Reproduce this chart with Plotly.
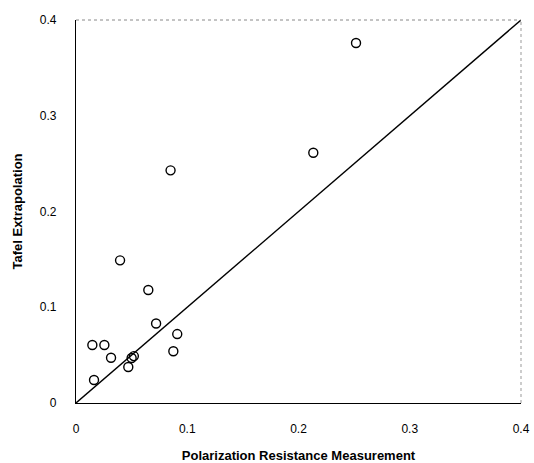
import plotly.graph_objects as go

# Data
polarization = [0.0396, 0.065, 0.072, 0.091, 0.0875, 0.0147, 0.0255, 0.0315,
                0.050, 0.052, 0.047, 0.0162, 0.2517, 0.2133, 0.085]
tafel = [0.149, 0.118, 0.083, 0.072, 0.054, 0.0606, 0.0606, 0.0473,
         0.047, 0.049, 0.0376, 0.024, 0.376, 0.2614, 0.243]
line_x = [0, 0.4]
line_y = [0, 0.4]
tick_vals = [0, 0.1, 0.2, 0.3, 0.4]
tick_text = ["0", "0.1", "0.2", "0.3", "0.4"]

font = "Liberation Sans, Arial, sans-serif"

fig = go.Figure()
fig.add_trace(go.Scatter(x=line_x, y=line_y, mode="lines",
                         line=dict(color="black", width=1.4), showlegend=False))
fig.add_trace(go.Scatter(x=polarization, y=tafel, mode="markers",
                         marker=dict(symbol="circle-open", size=9,
                                     line=dict(color="black", width=1.4), color="black"),
                         showlegend=False))

# top and right frame (lighter, dotted)
fig.add_shape(type="line", xref="paper", yref="paper", x0=0, x1=1, y0=1, y1=1,
              line=dict(color="#888888", width=1, dash="dot"))
fig.add_shape(type="line", xref="paper", yref="paper", x0=1, x1=1, y0=0, y1=1,
              line=dict(color="#999999", width=1, dash="dot"))

fig.update_layout(
    width=534, height=463,
    margin=dict(l=76, r=13, t=20, b=60),
    paper_bgcolor="white", plot_bgcolor="white",
    font=dict(family=font, color="black", size=12),
    xaxis=dict(range=[0, 0.4], tickvals=tick_vals, ticktext=tick_text,
               showgrid=False, zeroline=False, showline=True, linecolor="black",
               linewidth=1.2, ticks="", ticklabelstandoff=14, automargin=False,
               tickfont=dict(size=12, family=font),
               title=dict(text="<b>Polarization Resistance Measurement</b>",
                          font=dict(size=13, family=font), standoff=18)),
    yaxis=dict(range=[0, 0.4], tickvals=tick_vals, ticktext=tick_text,
               showgrid=False, zeroline=False, showline=True, linecolor="black",
               linewidth=1.2, ticks="", ticklabelstandoff=16, automargin=False,
               tickfont=dict(size=12, family=font),
               title=dict(text="<b>Tafel Extrapolation</b>",
                          font=dict(size=13, family=font), standoff=14)),
)

fig.write_html("out.html")
